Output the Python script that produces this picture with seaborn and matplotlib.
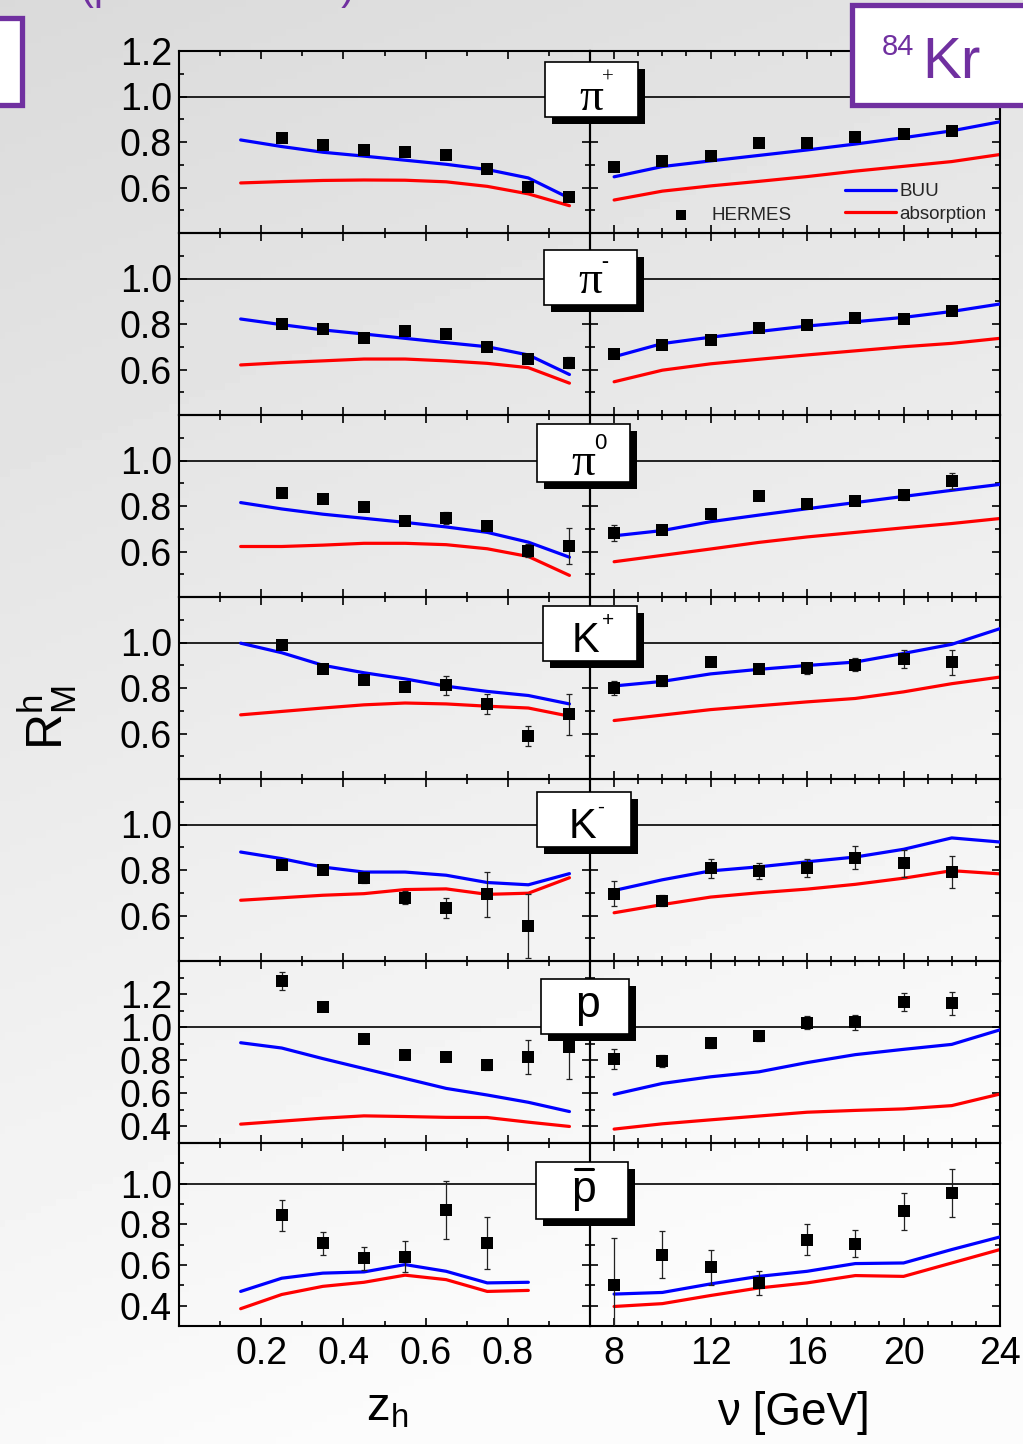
import numpy as np
import pandas as pd
import matplotlib
matplotlib.use("Agg")
import matplotlib.pyplot as plt
import seaborn as sns
from matplotlib import font_manager as fm
from matplotlib.patches import Rectangle
from matplotlib.lines import Line2D
from matplotlib.ticker import MultipleLocator

# ---------------------------------------------------------------- data
Z_DATA = [0.25, 0.35, 0.45, 0.55, 0.65, 0.75, 0.85, 0.95]
NU_DATA = [8, 10, 12, 14, 16, 18, 20, 22]
Z_CURVE = [0.15, 0.25, 0.35, 0.45, 0.55, 0.65, 0.75, 0.85, 0.95]
NU_CURVE = [8, 10, 12, 14, 16, 18, 20, 22, 24]

# pi+
pip_z_R = [0.818, 0.785, 0.765, 0.756, 0.745, 0.681, 0.602, 0.558]
pip_z_err = [0.008, 0.008, 0.008, 0.008, 0.008, 0.008, 0.01, 0.015]
pip_z_buu = [0.809, 0.780, 0.755, 0.738, 0.720, 0.702, 0.679, 0.642, 0.553]
pip_z_abs = [0.620, 0.626, 0.631, 0.633, 0.632, 0.625, 0.605, 0.572, 0.520]
pip_nu_R = [0.690, 0.716, 0.738, 0.796, 0.796, 0.822, 0.835, 0.848]
pip_nu_err = [0.01, 0.008, 0.008, 0.008, 0.008, 0.008, 0.01, 0.012]
pip_nu_buu = [0.647, 0.692, 0.717, 0.741, 0.765, 0.791, 0.819, 0.849, 0.889]
pip_nu_abs = [0.545, 0.584, 0.607, 0.627, 0.648, 0.672, 0.693, 0.714, 0.745]

# pi-
pim_z_R = [0.800, 0.778, 0.740, 0.770, 0.755, 0.700, 0.645, 0.630]
pim_z_err = [0.008, 0.008, 0.008, 0.008, 0.008, 0.01, 0.01, 0.025]
pim_z_buu = [0.822, 0.797, 0.774, 0.756, 0.737, 0.718, 0.700, 0.664, 0.578]
pim_z_abs = [0.620, 0.630, 0.638, 0.646, 0.646, 0.638, 0.627, 0.608, 0.540]
pim_nu_R = [0.668, 0.708, 0.730, 0.784, 0.796, 0.825, 0.820, 0.858]
pim_nu_err = [0.01, 0.008, 0.008, 0.008, 0.008, 0.008, 0.01, 0.01]
pim_nu_buu = [0.656, 0.714, 0.742, 0.767, 0.791, 0.810, 0.829, 0.855, 0.888]
pim_nu_abs = [0.546, 0.597, 0.625, 0.645, 0.664, 0.682, 0.700, 0.715, 0.737]

# pi0
pi0_z_R = [0.855, 0.830, 0.796, 0.735, 0.747, 0.713, 0.604, 0.623]
pi0_z_err = [0.008, 0.008, 0.01, 0.012, 0.027, 0.018, 0.03, 0.08]
pi0_z_buu = [0.815, 0.787, 0.764, 0.746, 0.728, 0.708, 0.684, 0.641, 0.575]
pi0_z_abs = [0.622, 0.622, 0.628, 0.636, 0.636, 0.630, 0.612, 0.578, 0.495]
pi0_nu_R = [0.683, 0.693, 0.763, 0.844, 0.810, 0.822, 0.847, 0.910]
pi0_nu_err = [0.035, 0.012, 0.01, 0.01, 0.01, 0.012, 0.02, 0.035]
pi0_nu_buu = [0.669, 0.692, 0.731, 0.760, 0.788, 0.815, 0.842, 0.869, 0.895]
pi0_nu_abs = [0.555, 0.583, 0.611, 0.640, 0.664, 0.684, 0.704, 0.723, 0.745]

# K+
kp_z_R = [0.990, 0.884, 0.837, 0.804, 0.811, 0.730, 0.589, 0.684]
kp_z_err = [0.012, 0.012, 0.012, 0.015, 0.04, 0.045, 0.046, 0.09]
kp_z_buu = [0.997, 0.955, 0.900, 0.867, 0.840, 0.808, 0.785, 0.767, 0.730]
kp_z_abs = [0.682, 0.697, 0.712, 0.726, 0.734, 0.730, 0.720, 0.712, 0.676]
kp_nu_R = [0.800, 0.829, 0.913, 0.884, 0.887, 0.903, 0.928, 0.913]
kp_nu_err = [0.03, 0.02, 0.012, 0.02, 0.025, 0.03, 0.04, 0.055]
kp_nu_buu = [0.809, 0.829, 0.862, 0.882, 0.899, 0.914, 0.952, 0.992, 1.061]
kp_nu_abs = [0.657, 0.681, 0.705, 0.722, 0.739, 0.754, 0.783, 0.819, 0.848]

# K-
km_z_R = [0.823, 0.800, 0.766, 0.679, 0.634, 0.693, 0.553]
km_z_err = [0.01, 0.015, 0.025, 0.03, 0.045, 0.098, 0.14]
km_z_buu = [0.879, 0.850, 0.813, 0.791, 0.791, 0.777, 0.745, 0.735, 0.784]
km_z_abs = [0.667, 0.678, 0.689, 0.696, 0.714, 0.717, 0.693, 0.698, 0.766]
km_nu_R = [0.696, 0.665, 0.807, 0.796, 0.810, 0.854, 0.829, 0.793]
km_nu_err = [0.055, 0.025, 0.04, 0.035, 0.04, 0.05, 0.06, 0.07]
km_nu_buu = [0.710, 0.757, 0.796, 0.814, 0.836, 0.857, 0.891, 0.941, 0.923]
km_nu_abs = [0.612, 0.648, 0.681, 0.700, 0.716, 0.737, 0.764, 0.797, 0.783]

# p
p_z_R = [1.280, 1.124, 0.926, 0.830, 0.820, 0.774, 0.820, 0.878]
p_z_err = [0.055, 0.02, 0.015, 0.015, 0.02, 0.03, 0.10, 0.19]
p_z_buu = [0.906, 0.874, 0.810, 0.750, 0.690, 0.630, 0.590, 0.546, 0.490]
p_z_abs = [0.414, 0.432, 0.450, 0.464, 0.460, 0.455, 0.454, 0.426, 0.400]
p_nu_R = [0.806, 0.796, 0.906, 0.944, 1.026, 1.030, 1.154, 1.144]
p_nu_err = [0.06, 0.035, 0.03, 0.03, 0.04, 0.045, 0.055, 0.07]
p_nu_buu = [0.594, 0.660, 0.700, 0.730, 0.786, 0.834, 0.866, 0.896, 0.984]
p_nu_abs = [0.384, 0.416, 0.440, 0.463, 0.486, 0.497, 0.506, 0.526, 0.596]

# anti-proton
pb_z_R = [0.845, 0.707, 0.632, 0.641, 0.870, 0.707]
pb_z_err = [0.076, 0.056, 0.055, 0.077, 0.144, 0.128]
pb_z_buu = [0.470, 0.535, 0.560, 0.566, 0.602, 0.569, 0.512, 0.515]
pb_z_abs = [0.385, 0.455, 0.495, 0.515, 0.550, 0.528, 0.470, 0.475]
pb_nu_R = [0.503, 0.651, 0.589, 0.512, 0.725, 0.704, 0.864, 0.956]
pb_nu_err = [0.23, 0.115, 0.085, 0.058, 0.075, 0.066, 0.09, 0.118]
pb_nu_buu = [0.457, 0.465, 0.507, 0.544, 0.569, 0.607, 0.610, 0.676, 0.738]
pb_nu_abs = [0.396, 0.410, 0.450, 0.487, 0.512, 0.548, 0.544, 0.610, 0.676]

Y_LIMITS = [(0.4, 1.2)] * 5 + [(0.3, 1.4), (0.3, 1.2)]
Y_LABELED = [[0.6, 0.8, 1.0, 1.2], [0.6, 0.8, 1.0], [0.6, 0.8, 1.0],
             [0.6, 0.8, 1.0], [0.6, 0.8, 1.0], [0.4, 0.6, 0.8, 1.0, 1.2],
             [0.4, 0.6, 0.8, 1.0]]
Z_TICKS = [0.2, 0.4, 0.6, 0.8]
NU_TICKS = [8, 12, 16, 20, 24]

ROWS = [
    (pip_z_R, pip_z_err, pip_z_buu, pip_z_abs, pip_nu_R, pip_nu_err, pip_nu_buu, pip_nu_abs),
    (pim_z_R, pim_z_err, pim_z_buu, pim_z_abs, pim_nu_R, pim_nu_err, pim_nu_buu, pim_nu_abs),
    (pi0_z_R, pi0_z_err, pi0_z_buu, pi0_z_abs, pi0_nu_R, pi0_nu_err, pi0_nu_buu, pi0_nu_abs),
    (kp_z_R, kp_z_err, kp_z_buu, kp_z_abs, kp_nu_R, kp_nu_err, kp_nu_buu, kp_nu_abs),
    (km_z_R, km_z_err, km_z_buu, km_z_abs, km_nu_R, km_nu_err, km_nu_buu, km_nu_abs),
    (p_z_R, p_z_err, p_z_buu, p_z_abs, p_nu_R, p_nu_err, p_nu_buu, p_nu_abs),
    (pb_z_R, pb_z_err, pb_z_buu, pb_z_abs, pb_nu_R, pb_nu_err, pb_nu_buu, pb_nu_abs),
]

# ---------------------------------------------------------------- style
sns.set_style("ticks")
names = {f.name for f in fm.fontManager.ttflist}
SANS = "Liberation Sans" if "Liberation Sans" in names else "DejaVu Sans"
SERIF = "Liberation Serif" if "Liberation Serif" in names else "DejaVu Serif"
plt.rcParams["font.family"] = [SANS, "DejaVu Sans"]
plt.rcParams["mathtext.fontset"] = "custom"
plt.rcParams["mathtext.rm"] = SANS
plt.rcParams["mathtext.it"] = SANS
plt.rcParams["axes.linewidth"] = 1.5

W, H = 1023, 1444
fig = plt.figure(figsize=(W / 100, H / 100), dpi=100)

BLUE = "#0000ff"
RED = "#ff0000"
PURPLE = "#7030a0"
TICK_FS = 27


def fx(px):
    return px / W


def fy(py):
    return 1 - py / H


# gradient background
bg = fig.add_axes([0, 0, 1, 1], zorder=-10)
yy, xx = np.mgrid[0:1:200j, 0:1:200j]
grad = np.clip(0.855 + 0.12 * yy + 0.035 * xx, 0, 0.985)
bg.imshow(grad, cmap="gray", vmin=0, vmax=1, aspect="auto", extent=[0, 1, 0, 1], origin="upper")
bg.axis("off")

ROW_EDGES = [51, 233, 415, 597, 779, 961, 1143, 1326]
XL = (179, 590)
XR = (590, 1000)


def style_axis(ax, row, left):
    ax.set_facecolor("none")
    for s in ax.spines.values():
        s.set_linewidth(1.5)
        s.set_color("black")
    ax.tick_params(which="both", direction="in", top=True, right=True,
                   bottom=True, left=True, width=1.2, colors="black")
    ax.tick_params(which="major", length=6)
    ax.tick_params(which="minor", length=3.5)
    lo, hi = Y_LIMITS[row]
    ax.set_ylim(lo, hi)
    major = [round(v, 1) for v in np.arange(0.4, hi + 1e-6, 0.2) if v >= lo - 1e-6]
    labels = [f"{v:.1f}" if (left and any(abs(v - t) < 1e-6 for t in Y_LABELED[row])) else "" for v in major]
    ax.set_yticks(major, labels)
    ax.yaxis.set_minor_locator(MultipleLocator(0.1))
    ax.tick_params(axis="y", labelsize=TICK_FS, pad=5)
    if left:
        ax.set_xlim(0.0, 1.0)
        ax.set_xticks(Z_TICKS)
        ax.xaxis.set_minor_locator(MultipleLocator(0.1))
    else:
        ax.set_xlim(7, 24)
        ax.set_xticks(NU_TICKS)
        ax.xaxis.set_minor_locator(MultipleLocator(1))
    ax.tick_params(axis="x", labelsize=TICK_FS, pad=7)
    if row != 6:
        ax.set_xticklabels([])
    ax.set_xlabel("")
    ax.set_ylabel("")
    ax.axhline(1.0, color="black", lw=1.2, zorder=1)


def draw_panel(ax, xd, R, err, xc, buu, absn, with_labels):
    sns.lineplot(x=xc[:len(absn)], y=absn, ax=ax, color=RED, lw=2.3, sort=False,
                 estimator=None, legend=False, label="absorption" if with_labels else None, zorder=2)
    sns.lineplot(x=xc[:len(buu)], y=buu, ax=ax, color=BLUE, lw=2.3, sort=False,
                 estimator=None, legend=False, label="BUU" if with_labels else None, zorder=3)
    xs = xd[:len(R)]
    ax.errorbar(xs, R, yerr=err, fmt="none", ecolor="#222222", elinewidth=0.9,
                capsize=2.5, capthick=0.9, zorder=4)
    sns.scatterplot(x=xs, y=R, ax=ax, marker="s", s=85, color="black", edgecolor="black",
                    linewidth=0, zorder=5, legend=False, label="HERMES" if with_labels else None)


axes_right = []
for i, (zR, zE, zB, zA, nR, nE, nB, nA) in enumerate(ROWS):
    y0, y1 = ROW_EDGES[i], ROW_EDGES[i + 1]
    axl = fig.add_axes([fx(XL[0]), fy(y1), fx(XL[1] - XL[0]), (y1 - y0) / H])
    axr = fig.add_axes([fx(XR[0]), fy(y1), fx(XR[1] - XR[0]), (y1 - y0) / H])
    draw_panel(axl, Z_DATA, zR, zE, Z_CURVE, zB, zA, False)
    draw_panel(axr, NU_DATA, nR, nE, NU_CURVE, nB, nA, i == 0)
    style_axis(axl, i, True)
    style_axis(axr, i, False)
    axes_right.append(axr)

# legend in first right panel
ax0 = axes_right[0]
handles, labels = ax0.get_legend_handles_labels()
hmap = dict(zip(labels, handles))
FS = 13.5
leg1 = ax0.legend([hmap["HERMES"]], ["HERMES"], loc="center left",
                  bbox_to_anchor=((672 - 590) / 410, (233 - 215) / 182),
                  frameon=False, fontsize=FS, handlelength=1.0, handletextpad=1.1,
                  borderpad=0, borderaxespad=0, markerscale=0.75)
ax0.add_artist(leg1)
ax0.legend([hmap["BUU"], hmap["absorption"]], ["BUU", "absorption"], loc="center left",
           bbox_to_anchor=((845 - 590) / 410, (233 - 203) / 182),
           frameon=False, fontsize=FS, handlelength=2.7, handletextpad=0.2,
           labelspacing=0.3, borderpad=0, borderaxespad=0)

# ------------------------------------------------ hadron label boxes
BOXES = [(545, 62, 638, 117), (544, 250, 637, 305), (537, 424, 630, 482),
         (543, 606, 637, 661), (537, 792, 631, 847), (541, 979, 629, 1034),
         (536, 1162, 628, 1219)]
for (x0, y0, x1, y1) in BOXES:
    fig.add_artist(Rectangle((fx(x0 + 7), fy(y1 + 7)), (x1 - x0) / W, (y1 - y0) / H,
                             transform=fig.transFigure, facecolor="black", edgecolor="none", zorder=5))
    fig.add_artist(Rectangle((fx(x0), fy(y1)), (x1 - x0) / W, (y1 - y0) / H,
                             transform=fig.transFigure, facecolor="white", edgecolor="black",
                             lw=1.2, zorder=6))


def ftext(px, py, s, size, family=None, va="baseline", color="black", z=9, **kw):
    fam = family if family else [SANS, "DejaVu Sans"]
    fig.text(fx(px), fy(py), s, fontsize=size, family=fam, ha="center", va=va,
             color=color, zorder=z, **kw)


SER = [SERIF, "DejaVu Serif"]
ftext(591, 110, "π", 34, family=SER)
ftext(608, 83, "+", 15, family=SER)
ftext(590, 293, "π", 34, family=SER)
ftext(605, 267, "-", 15, family=SER)
ftext(583, 475, "π", 34, family=SER)
ftext(600, 449, "0", 16)
ftext(585, 652, "K", 30)
ftext(608, 626, "+", 15)
ftext(582, 838, "K", 30)
ftext(601, 813, "-", 15)
ftext(588, 1017, "p", 32)
ftext(584, 1202, "p", 32)
fig.add_artist(Line2D([fx(575), fx(593)], [fy(1169), fy(1169)], transform=fig.transFigure,
                      color="black", lw=2.2, zorder=9))

# axis titles
ftext(48, 718, r"$\mathregular{R^h_M}$", 36, va="center", rotation=90)
ftext(387, 1420, r"$\mathregular{z_h}$", 34)
ftext(793, 1425, "ν [GeV]", 33)

# purple decoration boxes
fig.add_artist(Rectangle((fx(852), fy(105)), 200 / W, 100 / H, transform=fig.transFigure,
                         facecolor="white", edgecolor=PURPLE, lw=3.8, zorder=8, clip_on=False))
ftext(898, 55, "84", 21, color=PURPLE, z=10)
ftext(951, 78, "Kr", 42, color=PURPLE, z=10)
fig.add_artist(Rectangle((fx(-20), fy(105)), 42 / W, 87 / H, transform=fig.transFigure,
                         facecolor="white", edgecolor=PURPLE, lw=3.8, zorder=8, clip_on=False))
fig.text(fx(80), fy(-1), "(particle ratios)", fontsize=30, color=PURPLE, ha="left",
         va="baseline", family=[SANS, "DejaVu Sans"])

fig.savefig("out.png", dpi=100)
